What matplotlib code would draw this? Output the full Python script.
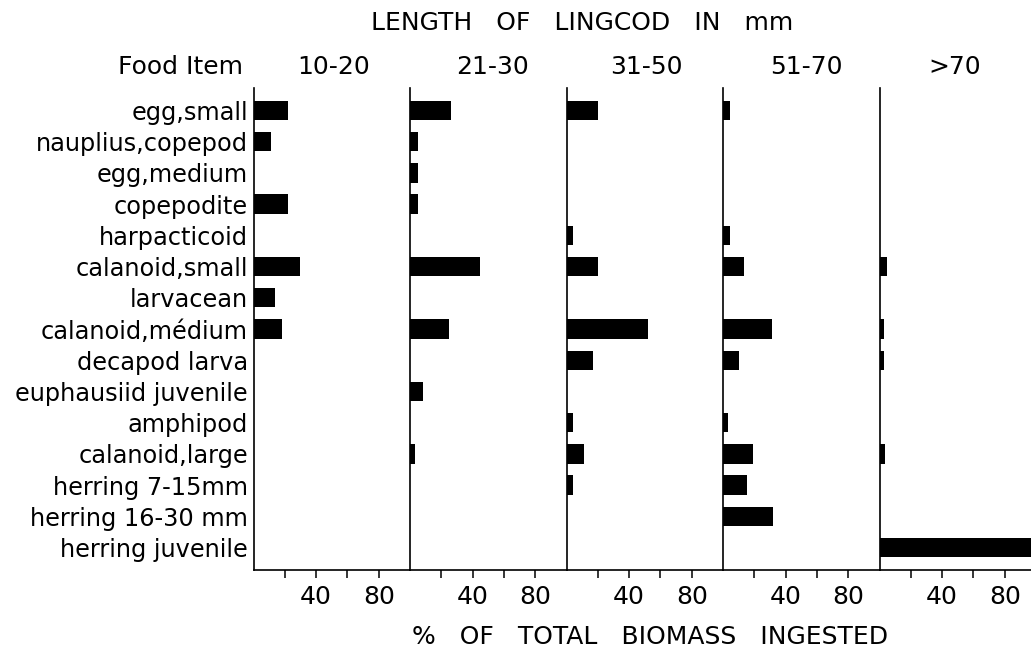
import matplotlib
matplotlib.use("Agg")
import matplotlib.pyplot as plt
from matplotlib.transforms import blended_transform_factory

items = ['egg,small', 'nauplius,copepod', 'egg,medium', 'copepodite',
         'harpacticoid', 'calanoid,small', 'larvacean', 'calanoid,médium',
         'decapod larva', 'euphausiid juvenile', 'amphipod', 'calanoid,large',
         'herring 7-15mm', 'herring 16-30 mm', 'herring juvenile']
groups = ['10-20', '21-30', '31-50', '51-70', '>70']

# % of total biomass ingested, one list per length group (same order as items)
g1 = [22, 11, 0, 22, 0, 30, 14, 18, 0, 0, 0, 0, 0, 0, 0]
g2 = [26, 5, 5, 5, 0, 45, 0, 25, 0, 8, 0, 3, 0, 0, 0]
g3 = [20, 0, 0, 0, 4, 20, 0, 52, 17, 0, 4, 11, 4, 0, 0]
g4 = [4.5, 0, 0, 0, 4.5, 13.5, 0, 31, 10.5, 0, 3.5, 19, 15.5, 32, 0]
g5 = [0, 0, 0, 0, 0, 4.5, 0, 3, 3, 0, 0, 3.2, 0, 0, 100]
values = [g1, g2, g3, g4, g5]

plt.rcParams['font.family'] = 'DejaVu Sans'

fig = plt.figure(figsize=(10.31, 6.55), dpi=100)
widths = [100, 100, 100, 100, 96.8]
gs = fig.add_gridspec(1, 5, width_ratios=widths, wspace=0,
                      left=0.2459, right=1.0, bottom=0.1298, top=0.8656)

# where each group label sits along its panel (in % units)
label_x = [51.4, 52.8, 50.8, 53.2, 48.2]

ypos = list(range(len(items)))
for i, vals in enumerate(values):
    ax = fig.add_subplot(gs[0, i])
    ax.barh(ypos, vals, height=0.62, color='black')
    ax.set_xlim(0, widths[i])
    ax.set_ylim(len(items) - 0.28, -0.72)
    for s in ['top', 'right']:
        ax.spines[s].set_visible(False)
    ax.spines['left'].set_linewidth(1.2)
    ax.spines['bottom'].set_linewidth(1.2)
    ax.set_xticks([20, 40, 60, 80])
    ax.set_xticklabels(['', '40', '', '80'])
    ax.tick_params(axis='x', length=6, width=1.1, labelsize=18, pad=5)
    if i == 0:
        ax.set_yticks(ypos)
        ax.set_yticklabels(items, fontsize=17.3)
        ax.tick_params(axis='y', length=0, pad=4)
    else:
        ax.set_yticks([])
    tr = blended_transform_factory(ax.transData, fig.transFigure)
    ax.text(label_x[i], 0.887, groups[i], transform=tr,
            fontsize=18, ha='center', va='baseline')

fig.text(0.2357, 0.887, 'Food Item', fontsize=18, ha='right', va='baseline')
fig.text(0.565, 0.954, 'LENGTH   OF   LINGCOD   IN   mm', fontsize=18,
         ha='center', va='baseline')
fig.text(0.631, 0.017, '%   OF   TOTAL   BIOMASS   INGESTED', fontsize=18,
         ha='center', va='baseline')

fig.savefig('out.png', dpi=100)
